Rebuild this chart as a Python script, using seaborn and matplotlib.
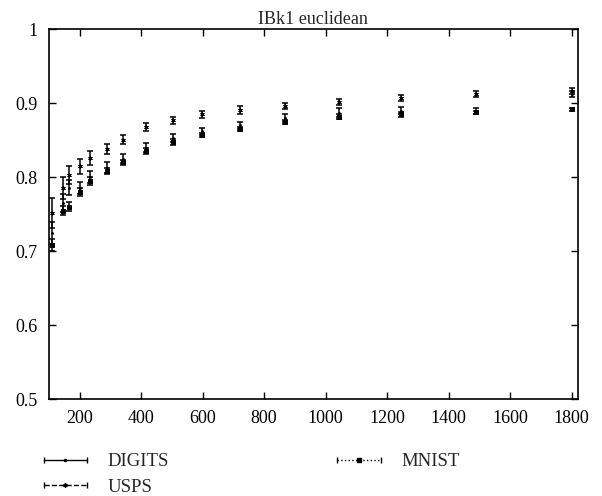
import matplotlib
matplotlib.use("Agg")
import matplotlib.pyplot as plt
import seaborn as sns
from matplotlib.lines import Line2D
from matplotlib.legend_handler import HandlerLine2D, HandlerTuple

# training set sizes
sizes = [110, 145, 165, 200, 235, 290, 340, 415, 505, 597, 720, 867, 1045, 1245, 1490, 1800]

# accuracy per dataset
digits_acc = [0.725, 0.765, 0.786, 0.785, 0.800, 0.813, 0.825, 0.840, 0.853, 0.862,
              0.870, 0.880, 0.887, 0.890, 0.890, 0.912]
usps_acc = [0.752, 0.785, 0.803, 0.815, 0.826, 0.838, 0.851, 0.868, 0.877, 0.885,
            0.891, 0.896, 0.902, 0.907, 0.912, 0.917]
mnist_acc = [0.708, 0.755, 0.760, 0.780, 0.795, 0.808, 0.820, 0.835, 0.848, 0.857,
             0.865, 0.875, 0.882, 0.885, 0.888, 0.892]

# error bar half widths
digits_err = [0.015, 0.012, 0.010, 0.008, 0.008, 0.007, 0.006, 0.006, 0.005, 0.005,
              0.005, 0.005, 0.006, 0.005, 0.004, 0.004]
usps_err = [0.020, 0.015, 0.012, 0.010, 0.009, 0.007, 0.006, 0.006, 0.005, 0.005,
            0.005, 0.004, 0.004, 0.004, 0.004, 0.004]
mnist_err = [0.008, 0.006, 0.006, 0.005, 0.005, 0.004, 0.004, 0.004, 0.004, 0.003,
             0.003, 0.003, 0.003, 0.003, 0.002, 0.002]

series = [
    ("DIGITS", digits_acc, digits_err, "-", "."),
    ("USPS", usps_acc, usps_err, "--", (6, 2, 0)),
    ("MNIST", mnist_acc, mnist_err, ":", "s"),
]

sns.set_style("ticks")
plt.rcParams["font.family"] = ["Liberation Serif", "DejaVu Serif"]

fig = plt.figure(figsize=(6.02, 4.96), dpi=100)
ax = fig.add_axes([0.081, 0.195, 0.879, 0.746])

handles = []
hmap = {tuple: HandlerTuple(ndivide=1)}
for name, acc, err, ls, mk in series:
    ax.errorbar(sizes, acc, yerr=err, fmt="none", ecolor="black",
                elinewidth=1.1, capsize=2.2, capthick=1.1)
    sns.scatterplot(x=sizes, y=acc, marker=mk, color="black", s=7,
                    edgecolor="black", linewidth=0.7, ax=ax, legend=False)
    cap = Line2D([], [], color="black", linestyle=ls, linewidth=1.0,
                 marker="|", markersize=5)
    mid = Line2D([], [], color="black", linestyle="none", marker=mk, markersize=3)
    hmap[cap] = HandlerLine2D(numpoints=2)
    hmap[mid] = HandlerLine2D(numpoints=1)
    handles.append((cap, mid))

ax.set_xlim(100, 1820)
ax.set_ylim(0.5, 1.0)
ax.set_xticks([200, 400, 600, 800, 1000, 1200, 1400, 1600, 1800])
ax.set_yticks([0.5, 0.6, 0.7, 0.8, 0.9, 1.0])
ax.set_yticklabels(["0.5", "0.6", "0.7", "0.8", "0.9", "1"])
ax.tick_params(direction="in", top=True, right=True, length=5, width=1,
               labelsize=13, colors="black", pad=8)
for sp in ax.spines.values():
    sp.set_visible(True)
    sp.set_color("black")
    sp.set_linewidth(1.2)
ax.set_title("IBk1 euclidean", fontsize=13, pad=4)

# legend below the plot: DIGITS/USPS left, MNIST right
fig.legend(handles, [s[0] for s in series],
           handler_map=hmap, ncol=2, loc="upper left",
           bbox_to_anchor=(0.035, 0.12), frameon=False, fontsize=13.5,
           handlelength=2.9, handletextpad=0.8, columnspacing=8.7,
           labelspacing=0.45)

fig.savefig("out.png", dpi=100)
